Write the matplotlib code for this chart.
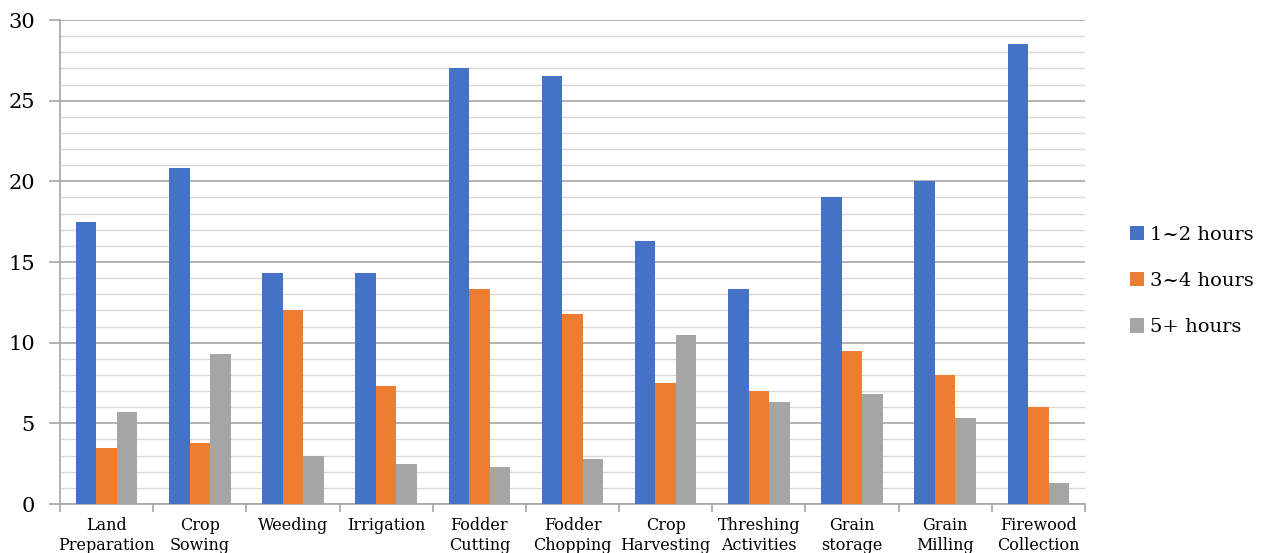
import numpy as np
import matplotlib
matplotlib.use("Agg")
import matplotlib.pyplot as plt
from matplotlib.ticker import MultipleLocator

# Chart data
categories = ["Land\nPreparation", "Crop\nSowing", "Weeding", "Irrigation",
              "Fodder\nCutting", "Fodder\nChopping", "Crop\nHarvesting",
              "Threshing\nActivities", "Grain\nstorage", "Grain\nMilling",
              "Firewood\nCollection"]
hours_1_2 = [17.5, 20.8, 14.3, 14.3, 27.0, 26.5, 16.3, 13.3, 19.0, 20.0, 28.5]
hours_3_4 = [3.5, 3.8, 12.0, 7.3, 13.3, 11.8, 7.5, 7.0, 9.5, 8.0, 6.0]
hours_5_plus = [5.7, 9.3, 3.0, 2.5, 2.3, 2.8, 10.5, 6.3, 6.8, 5.3, 1.3]
series_labels = ["1~2 hours", "3~4 hours", "5+ hours"]
colors = ["#4472C4", "#ED7D31", "#A5A5A5"]

plt.rcParams['font.family'] = ['DejaVu Serif']

fig = plt.figure(figsize=(12.66, 5.53), dpi=100)
ax = fig.add_axes([60 / 1266, 1 - 504 / 553, (1085 - 60) / 1266, (504 - 20) / 553])

x = np.arange(len(categories))
w = 0.22
for k, vals in enumerate([hours_1_2, hours_3_4, hours_5_plus]):
    ax.bar(x + (k - 1) * w, vals, width=w, color=colors[k], label=series_labels[k], zorder=3)

ax.set_xlim(-0.5, len(categories) - 0.5)
ax.set_ylim(0, 30)
ax.yaxis.set_major_locator(MultipleLocator(5))
ax.yaxis.set_minor_locator(MultipleLocator(1))
ax.grid(axis='y', which='major', color='#A6A6A6', linewidth=1.2, zorder=0)
ax.grid(axis='y', which='minor', color='#D9D9D9', linewidth=1.0, zorder=0)

# category ticks at boundaries, labels centered
ax.set_xticks(np.arange(len(categories) + 1) - 0.5)
ax.set_xticklabels([])
ax.set_xticks(x, minor=True)
ax.set_xticklabels(categories, minor=True, fontsize=11.5, linespacing=1.3)
ax.tick_params(axis='x', which='minor', length=0, pad=9)
ax.tick_params(axis='x', which='major', length=6, color='#A6A6A6', width=1.2)
ax.tick_params(axis='y', which='major', length=8, color='#A6A6A6', width=1.2,
               labelsize=15, pad=10)
ax.tick_params(axis='y', which='minor', length=0)

for s in ['top', 'right']:
    ax.spines[s].set_visible(False)
for s in ['left', 'bottom']:
    ax.spines[s].set_color('#A6A6A6')
    ax.spines[s].set_linewidth(1.2)

fig.legend(loc='center left', bbox_to_anchor=(1112 / 1266, 1 - 281 / 553),
           frameon=False, fontsize=14, handlelength=0.75, handleheight=0.75,
           handletextpad=0.3, labelspacing=1.45)

fig.savefig("out.png", dpi=100)
